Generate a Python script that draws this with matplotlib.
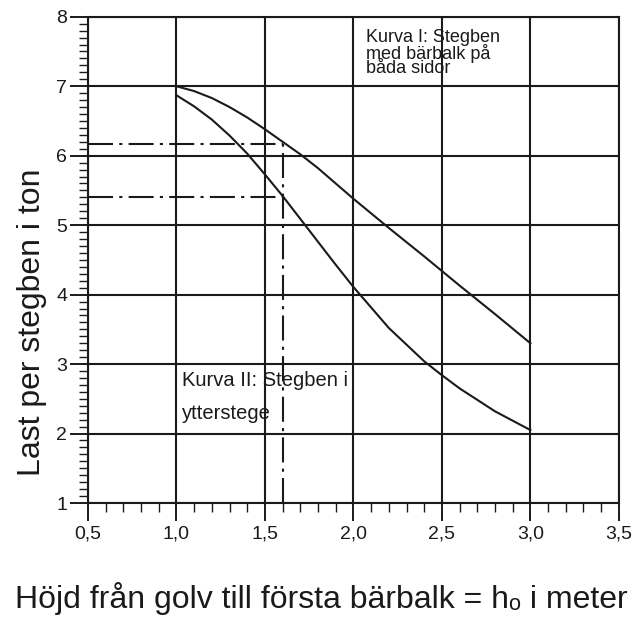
import matplotlib
matplotlib.use('Agg')
from matplotlib import pyplot as plt
from matplotlib.ticker import MultipleLocator, FuncFormatter

plt.rcParams['font.family'] = ['Liberation Sans', 'DejaVu Sans']

# Kurva I: stegben med bärbalk på båda sidor
hojdKurvaI = [1.0, 1.1, 1.2, 1.3, 1.4, 1.5, 1.6, 1.7, 1.8, 1.9, 2.0, 2.2, 2.4, 2.5, 2.6, 2.8, 3.0]
lastKurvaI = [7.0, 6.93, 6.83, 6.70, 6.55, 6.38, 6.20, 6.02, 5.82, 5.60, 5.38, 4.96, 4.55, 4.34, 4.13, 3.72, 3.30]

# Kurva II: stegben i ytterstege
hojdKurvaII = [1.0, 1.1, 1.2, 1.3, 1.4, 1.5, 1.6, 1.7, 1.8, 1.9, 2.0, 2.2, 2.4, 2.5, 2.6, 2.8, 3.0]
lastKurvaII = [6.87, 6.71, 6.52, 6.29, 6.03, 5.73, 5.42, 5.09, 4.76, 4.43, 4.11, 3.52, 3.04, 2.84, 2.65, 2.32, 2.05]

# avläsningslinjer (streckprickade)
hojdAvlasning = 1.6
lastAvlasning = [6.17, 5.40]

ink = '#1a1a1a'

fig = plt.figure(figsize=(6.42, 6.21), dpi=100)
ax = fig.add_axes([0.137, 0.190, 0.827, 0.783])

ax.set_xlim(0.5, 3.5)
ax.set_ylim(1, 8)

ax.xaxis.set_major_locator(MultipleLocator(0.5))
ax.xaxis.set_minor_locator(MultipleLocator(0.1))
ax.yaxis.set_major_locator(MultipleLocator(1))
ax.yaxis.set_minor_locator(MultipleLocator(0.1))
ax.xaxis.set_major_formatter(FuncFormatter(lambda v, p: '{:.1f}'.format(v).replace('.', ',')))
ax.yaxis.set_major_formatter(FuncFormatter(lambda v, p: '{:d}'.format(int(round(v)))))

ax.tick_params(which='major', direction='out', length=13, width=1.4, color=ink,
               labelsize=14, labelcolor=ink)
ax.tick_params(axis='x', which='major', pad=3)
ax.tick_params(axis='y', which='major', pad=2)
ax.tick_params(which='minor', direction='out', length=6.5, width=1.0, color=ink)

ax.grid(True, which='major', color=ink, linewidth=1.5)
for spine in ax.spines.values():
    spine.set_linewidth(1.5)
    spine.set_color(ink)

ax.plot(hojdKurvaI, lastKurvaI, color=ink, linewidth=1.5, zorder=3)
ax.plot(hojdKurvaII, lastKurvaII, color=ink, linewidth=1.5, zorder=3)

dashPattern = (12, 3, 1.5, 3)
for last in lastAvlasning:
    line, = ax.plot([0.5, hojdAvlasning], [last, last], color=ink, linewidth=1.5, zorder=3)
    line.set_dashes(dashPattern)
line, = ax.plot([hojdAvlasning, hojdAvlasning], [1, max(lastAvlasning)], color=ink, linewidth=1.5, zorder=3)
line.set_dashes(dashPattern)

# texten står tätt som i originalet
ax.text(2.07, 7.82, 'Kurva I: Stegben\nmed bärbalk på\nbåda sidor', fontsize=13, color=ink,
        va='top', linespacing=0.82)

ax.text(1.03, 2.69, 'Kurva II: Stegben i', fontsize=14.5, color=ink, va='baseline')
ax.text(1.03, 2.21, 'ytterstege', fontsize=14.5, color=ink, va='baseline')

ax.set_ylabel('Last per stegben i ton', fontsize=23, color=ink, va='center')
ax.yaxis.set_label_coords(-0.105, 0.372)
fig.text(0.5, 0.021, 'Höjd från golv till första bärbalk = hₒ i meter',
         fontsize=23, color=ink, ha='center', va='baseline')

fig.savefig('out.png', dpi=100, facecolor='white')
